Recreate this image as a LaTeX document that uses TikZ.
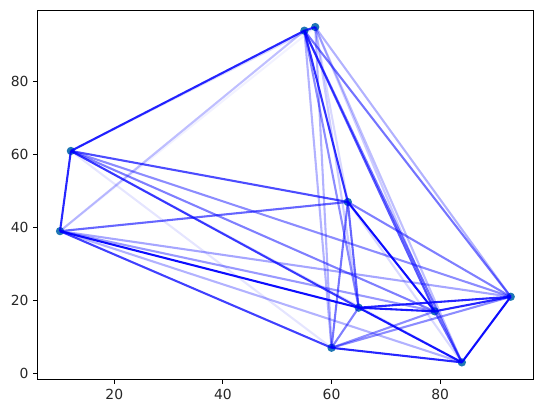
\documentclass[tikz,border=0pt]{standalone}
\usepackage{fontspec}
\setmainfont{DejaVu Sans}
\definecolor{tabblue}{HTML}{1F77B4}
\tikzset{
  pt/.style={circle, fill=tabblue, draw=none, inner sep=0pt, minimum size=8.3pt},
  edge/.style={draw=blue, line width=2.08pt},
  spine/.style={draw=black, line width=1.1pt},
  tick/.style={draw=black, line width=1.1pt},
  ticklab/.style={font=\fontsize{13.9pt}{16pt}\selectfont, inner sep=0pt, text=black!85}
}
\begin{document}
\begin{tikzpicture}
\useasboundingbox (0,0) rectangle (543pt,413pt);
\begin{scope}[shift={(5.73pt,39.7pt)}, x=5.43pt, y=3.645pt]
  % points
  \node[pt] (A) at (55,94) {};
  \node[pt] (B) at (57,95) {};
  \node[pt] (C) at (12,61) {};
  \node[pt] (D) at (10,39) {};
  \node[pt] (E) at (63,47) {};
  \node[pt] (F) at (65,18) {};
  \node[pt] (G) at (60,7) {};
  \node[pt] (H) at (79,17) {};
  \node[pt] (I) at (84,3) {};
  \node[pt] (J) at (93,21) {};
  % edges
  \foreach \a/\b/\o in {
    A/B/0.8, A/C/0.85, A/D/0.25, A/E/0.8, A/F/0.45, A/G/0.3, A/H/0.65, A/I/0.55, A/J/0.55,
    B/C/0.15, B/D/0.05, B/E/0.15, B/F/0.2, B/G/0.3, B/H/0.2, B/I/0.25, B/J/0.3,
    C/D/0.85, C/E/0.7, C/F/0.75, C/G/0.1, C/H/0.5, C/I/0.15, C/J/0.45,
    D/E/0.6, D/F/0.95, D/G/0.75, D/H/0.4, D/I/0.3, D/J/0.35,
    E/F/0.6, E/G/0.55, E/H/0.95, E/I/0.15, E/J/0.5,
    F/G/0.5, F/H/0.9, F/I/0.9, F/J/0.85,
    G/H/0.45, G/I/0.85, G/J/0.45,
    H/I/0.6, H/J/0.85,
    I/J/0.95}
  {\draw[edge, draw opacity=\o] (\a.center) -- (\b.center);}
  % axes frame
  \coordinate (ll) at (5.85,-1.6);
  \coordinate (ur) at (97.15,99.6);
  \draw[spine] (ll) rectangle (ur);
  % x ticks
  \foreach \v in {20,40,60,80} {
    \coordinate (xt\v) at (\v,-1.6);
    \draw[tick] (xt\v) -- ++(0,-4.9pt);
    \node[ticklab, anchor=north] at ([yshift=-9.8pt]xt\v) {\v};
  }
  % y ticks
  \foreach \v in {0,20,40,60,80} {
    \coordinate (yt\v) at (5.85,\v);
    \draw[tick] (yt\v) -- ++(-4.9pt,0);
    \node[ticklab, anchor=east] at ([xshift=-8.8pt]yt\v) {\v};
  }
\end{scope}
\end{tikzpicture}
\end{document}
